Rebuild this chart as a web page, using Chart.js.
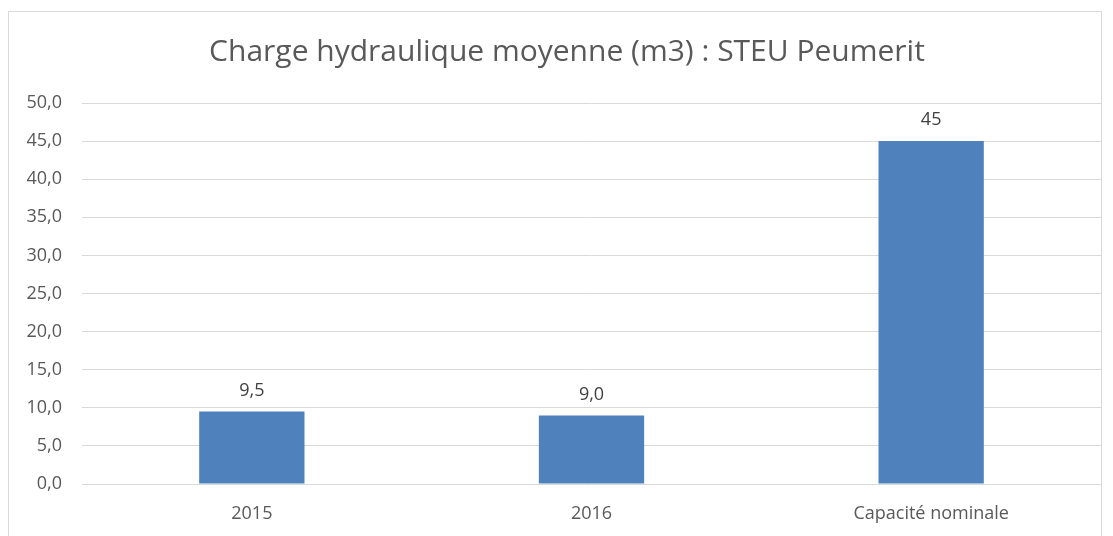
<!DOCTYPE html>
<html>
<head>
<meta charset="utf-8">
<script src="https://cdn.jsdelivr.net/npm/chart.js@4"></script>
<style>
  html, body { margin: 0; padding: 0; background: #fff; overflow: hidden; }
  #frame {
    position: absolute; left: 8px; top: 11px; width: 1094px; height: 540px;
    border: 1px solid #d9d9d9; box-sizing: border-box;
  }
  #wrap { position: absolute; left: 0; top: 0; width: 1113px; height: 536px; }
</style>
</head>
<body>
<div id="frame"></div>
<div id="wrap"><canvas id="chart" width="1113" height="536"></canvas></div>
<script>
// Charge hydraulique moyenne, STEU Peumerit
const chartTitle = "Charge hydraulique moyenne (m3) : STEU Peumerit";
const categories = ["2015", "2016", "Capacité nominale"];
const values = [9.5, 9.0, 45];
const valueLabels = ["9,5", "9,0", "45"];

const FONT = "'Open Sans', sans-serif";
const fmt = (v) => v.toFixed(1).replace(".", ",");

// draws the value above each bar
const barLabels = {
  id: "barLabels",
  afterDatasetsDraw(chart) {
    const ctx = chart.ctx;
    const meta = chart.getDatasetMeta(0);
    ctx.save();
    ctx.font = `18px ${FONT}`;
    ctx.fillStyle = "#404040";
    ctx.textAlign = "center";
    ctx.textBaseline = "middle";
    meta.data.forEach((bar, i) => {
      ctx.fillText(valueLabels[i], bar.x, bar.y - 21);
    });
    ctx.restore();
  },
};

// title centred on the frame rather than on the canvas, like the original
const frameTitle = {
  id: "frameTitle",
  afterDraw(chart) {
    const ctx = chart.ctx;
    ctx.save();
    ctx.font = `30px ${FONT}`;
    ctx.fillStyle = "#595959";
    ctx.textAlign = "center";
    ctx.textBaseline = "middle";
    ctx.fillText(chartTitle, 567, 52);
    ctx.restore();
  },
};

const ctx = document.getElementById("chart").getContext("2d");
const chart = new Chart(ctx, {
  type: "bar",
  data: {
    labels: categories,
    datasets: [
      {
        data: values,
        backgroundColor: "#4f81bd",
        barPercentage: 0.62,
        categoryPercentage: 0.5,
      },
    ],
  },
  options: {
    responsive: false,
    animation: false,
    layout: { padding: { top: 103, right: 12, bottom: 0, left: 0 } },
    scales: {
      y: {
        min: 0,
        max: 50,
        ticks: {
          stepSize: 5,
          padding: 20,
          color: "#595959",
          font: { family: FONT, size: 18 },
          callback: (v) => fmt(v),
        },
        grid: { color: "#d9d9d9", drawTicks: false },
        border: { display: false },
        afterFit: (s) => { s.width = 82; },
      },
      x: {
        ticks: {
          padding: 11,
          color: "#595959",
          font: { family: FONT, size: 18 },
        },
        grid: { display: false },
        border: { display: false },
        afterFit: (s) => { s.height = 52; },
      },
    },
    plugins: {
      legend: { display: false },
      tooltip: { enabled: false },
      title: { display: false },
    },
  },
  plugins: [barLabels, frameTitle],
});
</script>
</body>
</html>
